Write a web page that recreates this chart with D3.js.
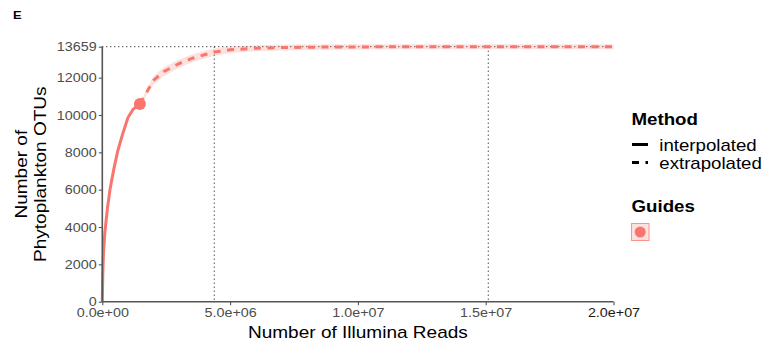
<!DOCTYPE html>
<html>
<head>
<meta charset="utf-8">
<script src="https://cdn.jsdelivr.net/npm/d3@7"></script>
<style>
  body { margin: 0; background: #fff; }
  svg { display: block; font-family: "Liberation Sans", Arial, Helvetica, sans-serif; }
</style>
</head>
<body>
<svg id="chart" width="766" height="347"></svg>
<script>
// Rarefaction curve (reads vs. observed OTUs)
const interpReads = [0, 0.02e6, 0.05e6, 0.1e6, 0.2e6, 0.3e6, 0.45e6, 0.6e6, 0.8e6, 1.0e6, 1.2e6, 1.47e6];
const interpOTUs  = [0, 1500, 2700, 3700, 5000, 6000, 7100, 8050, 9000, 9850, 10300, 10590];
const interpLow   = [0, 1480, 2670, 3660, 4950, 5945, 7040, 7985, 8930, 9775, 10220, 10510];
const interpHigh  = [0, 1520, 2730, 3740, 5050, 6055, 7160, 8115, 9070, 9925, 10380, 10670];

const extrapReads = [1.47e6, 2.0e6, 2.4e6, 3.0e6, 3.5e6, 4.0e6, 4.4e6, 5.0e6, 6.0e6, 7.0e6, 8.0e6, 10e6, 12e6, 15e6, 20e6];
const extrapOTUs  = [10590, 11850, 12320, 12750, 13030, 13230, 13370, 13490, 13575, 13612, 13632, 13648, 13654, 13657, 13659];
const extrapLow   = [10510, 11620, 12090, 12530, 12820, 13030, 13180, 13315, 13415, 13462, 13488, 13508, 13516, 13520, 13522];
const extrapHigh  = [10670, 12080, 12550, 12970, 13240, 13430, 13560, 13665, 13735, 13762, 13776, 13788, 13792, 13794, 13796];

const observedReads = 1.47e6;
const observedOTUs = 10590;

const maxOTUs = 13659;
const guideReads = [4.38e6, 1.51e7];

const yTicks = [0, 2000, 4000, 6000, 8000, 10000, 12000, 13659];
const xTicks = [0, 5e6, 1e7, 1.5e7, 2e7];
const xTickLabels = ["0.0e+00", "5.0e+06", "1.0e+07", "1.5e+07", "2.0e+07"];

const col = "#F8766D";
const WIDE = 1.12; // horizontal widening of the sans glyphs

const svg = d3.select("#chart");
const x = d3.scaleLinear().domain([0, 2e7]).range([102.3, 613.5]);
const y = d3.scaleLinear().domain([0, maxOTUs]).range([301.7, 46.7]);

// Text placed at (px, py), widened horizontally around its anchor
function label(parent, px, py, str, size, opts = {}) {
  return parent.append("text")
    .attr("transform", `translate(${px},${py})${opts.rotate ? " rotate(" + opts.rotate + ")" : ""} scale(${opts.k || WIDE},1)`)
    .attr("font-size", size)
    .attr("font-weight", opts.bold ? "bold" : null)
    .attr("text-anchor", opts.anchor || "start")
    .attr("fill", opts.fill || "#000")
    .text(str);
}

// Panel tag
label(svg, 13, 19, "E", 11.5, { bold: true });

// Dotted guide lines
const guides = svg.append("g").attr("stroke", "#000").attr("stroke-width", 1)
  .attr("stroke-dasharray", "1,3").attr("fill", "none");
guides.append("line").attr("x1", x(0)).attr("x2", x(2e7))
  .attr("y1", y(maxOTUs)).attr("y2", y(maxOTUs));
guideReads.forEach(r => {
  guides.append("line").attr("x1", x(r)).attr("x2", x(r))
    .attr("y1", y(maxOTUs)).attr("y2", y(0));
});

// Confidence ribbons
const area = d3.area().x(d => x(d[0])).y0(d => y(d[1])).y1(d => y(d[2]));
const interpBand = interpReads.map((r, i) => [r, interpLow[i], interpHigh[i]]);
const extrapBand = extrapReads.map((r, i) => [r, extrapLow[i], extrapHigh[i]]);
svg.append("path").datum(interpBand.concat(extrapBand.slice(1)))
  .attr("d", area).attr("fill", col).attr("fill-opacity", 0.22);

// Curves
const line = d3.line().x(d => x(d[0])).y(d => y(d[1]));
svg.append("path").datum(interpReads.map((r, i) => [r, interpOTUs[i]]))
  .attr("d", line).attr("fill", "none").attr("stroke", col).attr("stroke-width", 3);
svg.append("path").datum(extrapReads.map((r, i) => [r, extrapOTUs[i]]))
  .attr("d", line).attr("fill", "none").attr("stroke", col).attr("stroke-width", 3)
  .attr("stroke-dasharray", "7,6.5");

// Observed sample point
svg.append("circle").attr("cx", x(observedReads)).attr("cy", y(observedOTUs))
  .attr("r", 6).attr("fill", col);

// Axes
const axisCol = "#555";
const yAxis = svg.append("g").attr("transform", `translate(${x(0)},0)`)
  .call(d3.axisLeft(y).tickValues(yTicks).tickSize(3.5).tickPadding(1.5).tickFormat(d3.format("d")));
const xAxis = svg.append("g").attr("transform", `translate(0,${y(0)})`)
  .call(d3.axisBottom(x).tickValues(xTicks).tickSize(3.5).tickPadding(3)
    .tickFormat((d, i) => xTickLabels[i]));
[yAxis, xAxis].forEach(g => {
  g.select(".domain").attr("stroke", axisCol).attr("stroke-width", 1.6);
  g.selectAll(".tick line").attr("stroke", axisCol).attr("stroke-width", 1.1);
  g.selectAll(".tick text").attr("fill", "#4D4D4D").attr("font-size", 12.8)
    .attr("font-family", "Liberation Sans, Arial, sans-serif")
    .attr("transform", `scale(${WIDE},1)`);
});
yAxis.select(".domain").attr("d", `M0,${y(0)}V${y(maxOTUs)}`);
xAxis.select(".domain").attr("d", `M${x(0)},0H${x(2e7)}`);
xAxis.selectAll(".tick text").filter((d, i) => i === xTicks.length - 1).attr("fill", "#1a1a1a");

// Axis titles
label(svg, (x(0) + x(2e7)) / 2, 338, "Number of Illumina Reads", 17, { anchor: "middle" });
const yMid = (y(0) + y(maxOTUs)) / 2;
label(svg, 27, yMid, "Number of", 17, { anchor: "middle", rotate: -90 });
label(svg, 46, yMid, "Phytoplankton OTUs", 17, { anchor: "middle", rotate: -90 });

// Legend
const lg = svg.append("g");
label(lg, 631.5, 125, "Method", 17, { bold: true, k: 1.1 });
lg.append("line").attr("x1", 632).attr("x2", 648).attr("y1", 144.5).attr("y2", 144.5)
  .attr("stroke", "#000").attr("stroke-width", 3);
lg.append("line").attr("x1", 632).attr("x2", 648).attr("y1", 162.5).attr("y2", 162.5)
  .attr("stroke", "#000").attr("stroke-width", 3).attr("stroke-dasharray", "7,6.5");
label(lg, 659.3, 150.7, "interpolated", 16, { k: 1.165 });
label(lg, 659.3, 168.5, "extrapolated", 16, { k: 1.165 });

label(lg, 631.5, 212, "Guides", 17, { bold: true, k: 1.1 });
lg.append("rect").attr("x", 631.5).attr("y", 223.5).attr("width", 17.5).attr("height", 17)
  .attr("fill", col).attr("fill-opacity", 0.22).attr("stroke", col).attr("stroke-opacity", 0.75)
  .attr("stroke-width", 1);
lg.append("circle").attr("cx", 640.2).attr("cy", 232).attr("r", 5.5).attr("fill", col);
</script>
</body>
</html>
